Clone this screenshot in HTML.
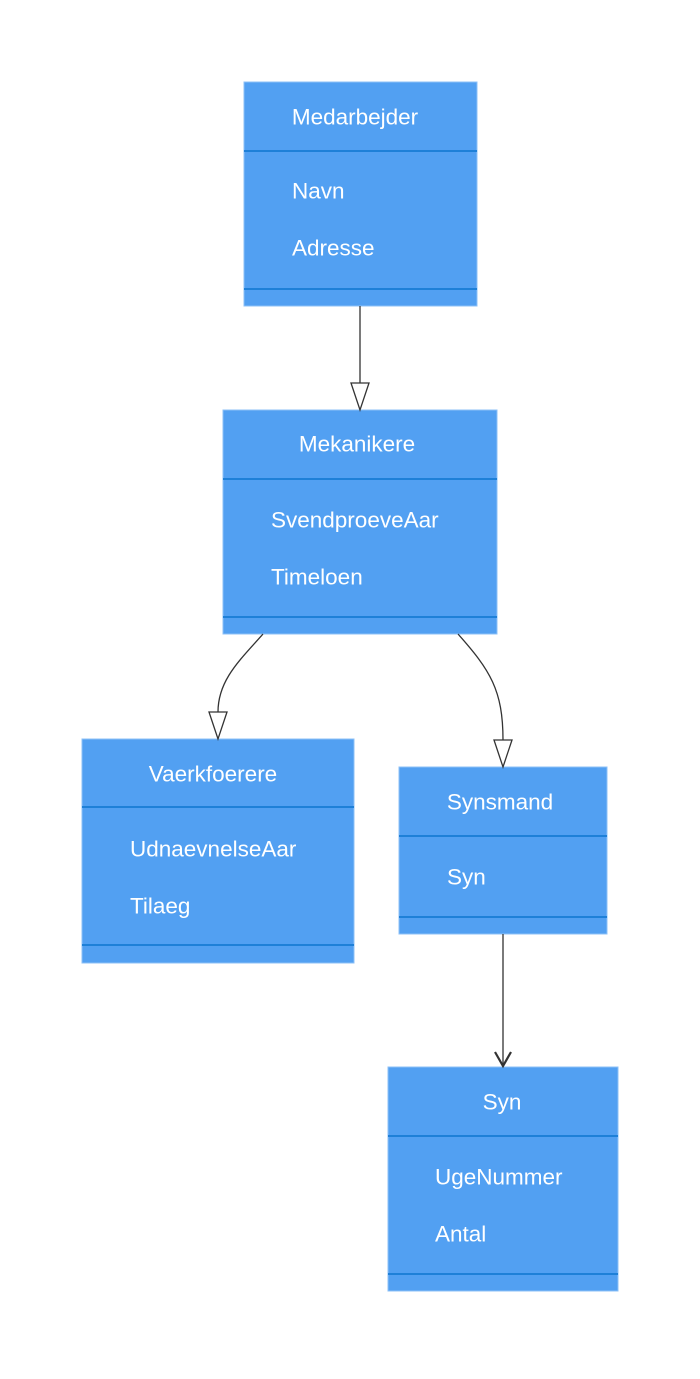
<!DOCTYPE html>
<html><head><meta charset="utf-8"><style>
html,body{margin:0;padding:0;background:#fff;}
svg text{font-family:"Liberation Sans",Arial,sans-serif;font-size:22.5px;fill:#fff;}
</style></head><body>
<svg width="700" height="1374" viewBox="0 0 700 1374" xmlns="http://www.w3.org/2000/svg">
<g fill="#52a0f2" stroke="#8cc0f7" stroke-width="1">
<rect x="244" y="82" width="233" height="224"/>
<rect x="223" y="410" width="274" height="224"/>
<rect x="82" y="739" width="272" height="224"/>
<rect x="399" y="767" width="208" height="167"/>
<rect x="388" y="1067" width="230" height="224"/>
</g>
<g stroke="#1e80d8" stroke-width="2">
<line x1="244" y1="151" x2="477" y2="151"/><line x1="244" y1="289" x2="477" y2="289"/>
<line x1="223" y1="479" x2="497" y2="479"/><line x1="223" y1="617" x2="497" y2="617"/>
<line x1="82" y1="807" x2="354" y2="807"/><line x1="82" y1="945" x2="354" y2="945"/>
<line x1="399" y1="836" x2="607" y2="836"/><line x1="399" y1="917" x2="607" y2="917"/>
<line x1="388" y1="1136" x2="618" y2="1136"/><line x1="388" y1="1274" x2="618" y2="1274"/>
</g>
<g fill="none" stroke="#333" stroke-width="1.3">
<line x1="360" y1="306" x2="360" y2="383"/>
<polygon points="351,383 369,383 360,410" fill="#fff"/>
<path d="M263,634 C240,660 218,680 218,712"/>
<polygon points="209,712 227,712 218,739" fill="#fff"/>
<path d="M458,634 C490,670 503,690 503,740"/>
<polygon points="494,740 512,740 503,767" fill="#fff"/>
<line x1="503" y1="934" x2="503" y2="1066"/>
<polyline points="495,1052 503,1066 511,1052" stroke-width="2.2"/>
</g>
<g dominant-baseline="central">
<text x="355" y="117" text-anchor="middle">Medarbejder</text>
<text x="292" y="191">Navn</text>
<text x="292" y="248">Adresse</text>
<text x="357" y="444" text-anchor="middle">Mekanikere</text>
<text x="271" y="520">SvendproeveAar</text>
<text x="271" y="577">Timeloen</text>
<text x="213" y="774" text-anchor="middle">Vaerkfoerere</text>
<text x="130" y="849">UdnaevnelseAar</text>
<text x="130" y="906">Tilaeg</text>
<text x="500" y="802" text-anchor="middle">Synsmand</text>
<text x="447" y="877">Syn</text>
<text x="502" y="1102" text-anchor="middle">Syn</text>
<text x="435" y="1177">UgeNummer</text>
<text x="435" y="1234">Antal</text>
</g>
</svg>
</body></html>
